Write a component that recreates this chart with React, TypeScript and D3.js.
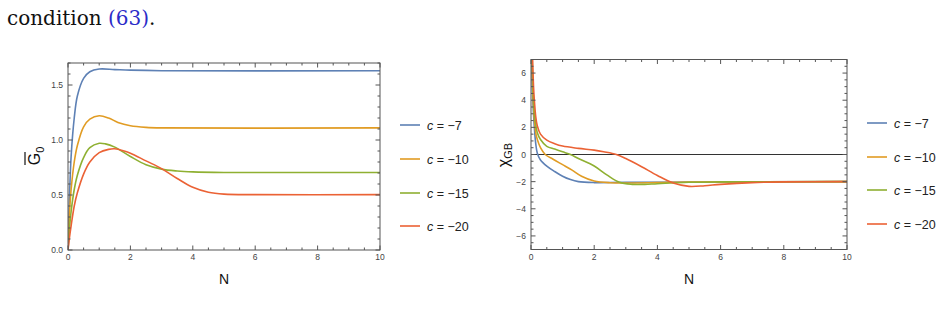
import React from "react";
import * as d3 from "d3";

const W = 946;
const H = 314;

const seriesLabels = ["c = \u22127", "c = \u221210", "c = \u221215", "c = \u221220"];
const seriesValues = ["\u22127", "\u221210", "\u221215", "\u221220"];
const colors = ["#5E81B5", "#E19C24", "#8FB032", "#EB6235"];

// Left panel: G0-bar vs N
const g0Blue: [number, number][] = [
  [0, 0], [0.05, 0.5], [0.1, 0.85], [0.2, 1.2], [0.3, 1.4], [0.5, 1.56], [0.7, 1.62],
  [1.0, 1.645], [1.5, 1.64], [2, 1.635], [3, 1.63], [10, 1.63],
];
const g0Orange: [number, number][] = [
  [0, 0], [0.05, 0.35], [0.1, 0.55], [0.2, 0.8], [0.3, 0.95], [0.5, 1.12], [0.7, 1.19],
  [1.0, 1.22], [1.3, 1.2], [1.6, 1.16], [2, 1.13], [2.5, 1.115], [3, 1.11], [10, 1.11],
];
const g0Green: [number, number][] = [
  [0, 0], [0.05, 0.2], [0.1, 0.35], [0.2, 0.55], [0.3, 0.68], [0.5, 0.84], [0.7, 0.93],
  [1.0, 0.97], [1.2, 0.965], [1.5, 0.935], [2, 0.85], [2.5, 0.775], [3, 0.735],
  [3.5, 0.718], [4, 0.71], [5, 0.705], [10, 0.705],
];
const g0Red: [number, number][] = [
  [0, 0], [0.05, 0.12], [0.1, 0.22], [0.2, 0.4], [0.3, 0.52], [0.5, 0.69], [0.7, 0.8],
  [1.0, 0.885], [1.3, 0.915], [1.5, 0.92], [1.8, 0.9], [2, 0.88], [2.5, 0.81], [3, 0.74],
  [3.5, 0.65], [4, 0.57], [4.5, 0.525], [5, 0.508], [6, 0.503], [10, 0.503],
];

// Right panel: chi_GB vs N
const chiBlue: [number, number][] = [
  [0.01, 9], [0.02, 7], [0.05, 4.5], [0.1, 2.2], [0.15, 0.8], [0.2, 0.1], [0.3, -0.4],
  [0.5, -0.85], [0.75, -1.25], [1.0, -1.6], [1.25, -1.85], [1.5, -2.0], [2, -2.07],
  [3, -2.05], [10, -2.0],
];
const chiOrange: [number, number][] = [
  [0.015, 9], [0.03, 7], [0.06, 4.5], [0.1, 2.8], [0.15, 1.6], [0.2, 1.1], [0.3, 0.5],
  [0.45, 0], [0.7, -0.35], [1.0, -0.75], [1.3, -1.15], [1.6, -1.6], [2.0, -1.95],
  [2.5, -2.08], [3, -2.1], [4, -2.07], [5, -2.03], [10, -2.0],
];
const chiGreen: [number, number][] = [
  [0.02, 9], [0.04, 7], [0.07, 4.5], [0.1, 3.2], [0.15, 2.2], [0.2, 1.6], [0.3, 1.1],
  [0.5, 0.6], [0.75, 0.4], [1.0, 0.2], [1.25, 0], [1.5, -0.3], [2, -0.85], [2.4, -1.5],
  [2.8, -2.05], [3.2, -2.2], [3.6, -2.2], [4, -2.15], [5, -2.05], [6, -2.02], [10, -2.0],
];
const chiRed: [number, number][] = [
  [0.03, 9], [0.05, 7], [0.08, 5], [0.1, 4.2], [0.15, 2.8], [0.2, 2.1], [0.3, 1.5],
  [0.5, 1.06], [0.75, 0.8], [1.0, 0.62], [1.5, 0.45], [2.0, 0.32], [2.3, 0.2], [2.7, 0],
  [3.0, -0.3], [3.5, -0.9], [4.0, -1.55], [4.5, -2.1], [5.0, -2.35], [5.5, -2.3],
  [6, -2.2], [7, -2.07], [8, -2.02], [10, -2.0],
];

const g0Series = [g0Blue, g0Orange, g0Green, g0Red];
const chiSeries = [chiBlue, chiOrange, chiGreen, chiRed];

const xTicks = [0, 2, 4, 6, 8, 10];
const g0Ticks = [0, 0.5, 1.0, 1.5];
const chiTicks = [-6, -4, -2, 0, 2, 4, 6];

const FONT = "'Liberation Sans', Arial, sans-serif";
const FRAME = "#555";

type PanelProps = {
  id: string;
  left: number;
  right: number;
  top: number;
  bottom: number;
  yDomain: [number, number];
  yTicks: number[];
  yMinorStep: number;
  yFmt: (v: number) => string;
  series: [number, number][][];
  zeroLine: boolean;
};

function Panel(p: PanelProps) {
  const x = d3.scaleLinear().domain([0, 10]).range([p.left, p.right]);
  const y = d3.scaleLinear().domain(p.yDomain).range([p.bottom, p.top]);
  const line = d3
    .line<[number, number]>()
    .x((d) => x(d[0]))
    .y((d) => y(d[1]))
    .curve(d3.curveCatmullRom.alpha(0.5));

  const xMinor = d3.range(0, 10.001, 0.5).filter((v) => Math.abs(v / 2 - Math.round(v / 2)) > 1e-6);
  const [y0, y1] = p.yDomain;
  const nMin = Math.round((y1 - y0) / p.yMinorStep);
  const yMinor = d3
    .range(0, nMin + 1)
    .map((i) => y0 + i * p.yMinorStep)
    .filter((v) => !p.yTicks.some((t) => Math.abs(t - v) < 1e-6));

  const MJ = 4.5;
  const MN = 2.5;
  return (
    <g>
      <defs>
        <clipPath id={p.id}>
          <rect x={p.left} y={p.top} width={p.right - p.left} height={p.bottom - p.top} />
        </clipPath>
      </defs>
      {p.zeroLine && (
        <line x1={p.left} x2={p.right} y1={y(0)} y2={y(0)} stroke="#333" strokeWidth={1.1} />
      )}
      <g clipPath={`url(#${p.id})`}>
        {p.series.map((s, i) => (
          <path key={i} d={line(s) || ""} fill="none" stroke={colors[i]} strokeWidth={1.6} />
        ))}
      </g>
      <rect
        x={p.left}
        y={p.top}
        width={p.right - p.left}
        height={p.bottom - p.top}
        fill="none"
        stroke={FRAME}
        strokeWidth={1}
      />
      {xTicks.map((t) => (
        <g key={"xm" + t}>
          <line x1={x(t)} x2={x(t)} y1={p.bottom} y2={p.bottom - MJ} stroke={FRAME} />
          <line x1={x(t)} x2={x(t)} y1={p.top} y2={p.top + MJ} stroke={FRAME} />
          <text
            x={x(t)}
            y={p.bottom + 10}
            textAnchor="middle"
            fontSize={8.5}
            fill="#444"
            fontFamily={FONT}
          >
            {t}
          </text>
        </g>
      ))}
      {xMinor.map((t) => (
        <g key={"xn" + t}>
          <line x1={x(t)} x2={x(t)} y1={p.bottom} y2={p.bottom - MN} stroke={FRAME} />
          <line x1={x(t)} x2={x(t)} y1={p.top} y2={p.top + MN} stroke={FRAME} />
        </g>
      ))}
      {p.yTicks.map((t) => (
        <g key={"ym" + t}>
          <line x1={p.left} x2={p.left + MJ} y1={y(t)} y2={y(t)} stroke={FRAME} />
          <line x1={p.right} x2={p.right - MJ} y1={y(t)} y2={y(t)} stroke={FRAME} />
          <text
            x={p.left - 5}
            y={y(t) + 3}
            textAnchor="end"
            fontSize={8.5}
            fill="#444"
            fontFamily={FONT}
          >
            {p.yFmt(t)}
          </text>
        </g>
      ))}
      {yMinor.map((t, i) => (
        <g key={"yn" + i}>
          <line x1={p.left} x2={p.left + MN} y1={y(t)} y2={y(t)} stroke={FRAME} />
          <line x1={p.right} x2={p.right - MN} y1={y(t)} y2={y(t)} stroke={FRAME} />
        </g>
      ))}
      <text
        x={(p.left + p.right) / 2}
        y={284}
        textAnchor="middle"
        fontSize={14}
        fill="#111"
        fontFamily={FONT}
      >
        N
      </text>
    </g>
  );
}

function Legend({ x, ys }: { x: number; ys: number[] }) {
  return (
    <g>
      {seriesLabels.map((_, i) => (
        <g key={i}>
          <line x1={x} x2={x + 20} y1={ys[i]} y2={ys[i]} stroke={colors[i]} strokeWidth={1.6} />
          <text x={x + 27} y={ys[i] + 4.5} fontSize={12.5} fill="#222" fontFamily={FONT}>
            <tspan fontStyle="italic">c</tspan>
            <tspan>{" = " + seriesValues[i]}</tspan>
          </text>
        </g>
      ))}
    </g>
  );
}

export default function App() {
  return (
    <svg
      width={W}
      height={H}
      viewBox={`0 0 ${W} ${H}`}
      style={{ position: "absolute", left: 0, top: 0, background: "#fff" }}
    >
      <rect x={0} y={0} width={W} height={H} fill="#fff" />
      <text x={7} y={25} fontSize={20} fontFamily="'DejaVu Serif', serif" fill="#111">
        condition <tspan fill="#2b2bc8">(63)</tspan>.
      </text>

      <Panel
        id="clipL"
        left={68}
        right={380}
        top={63}
        bottom={250}
        yDomain={[0, 1.7]}
        yTicks={g0Ticks}
        yMinorStep={0.1}
        yFmt={(v) => v.toFixed(1)}
        series={g0Series}
        zeroLine={false}
      />
      <g transform="translate(40,156) rotate(-90)">
        <text textAnchor="middle" fontSize={16} fill="#111" fontFamily={FONT}>
          <tspan>G</tspan>
          <tspan fontSize={11} dy={4}>0</tspan>
        </text>
        <line x1={-9} x2={4} y1={-15} y2={-15} stroke="#111" strokeWidth={1.2} />
      </g>
      <Legend x={400} ys={[125, 159, 193, 226]} />

      <Panel
        id="clipR"
        left={531}
        right={847}
        top={59.5}
        bottom={249.5}
        yDomain={[-7, 7]}
        yTicks={chiTicks}
        yMinorStep={0.5}
        yFmt={(v) => (v < 0 ? "\u2212" + Math.abs(v) : String(v))}
        series={chiSeries}
        zeroLine={true}
      />
      <g transform="translate(509,155) rotate(-90)">
        <text textAnchor="middle" fontSize={16} fill="#111" fontFamily={FONT}>
          <tspan>{"\u03C7"}</tspan>
          <tspan fontSize={11} dy={3}>GB</tspan>
        </text>
      </g>
      <Legend x={867} ys={[123, 157, 190, 224]} />
    </svg>
  );
}
